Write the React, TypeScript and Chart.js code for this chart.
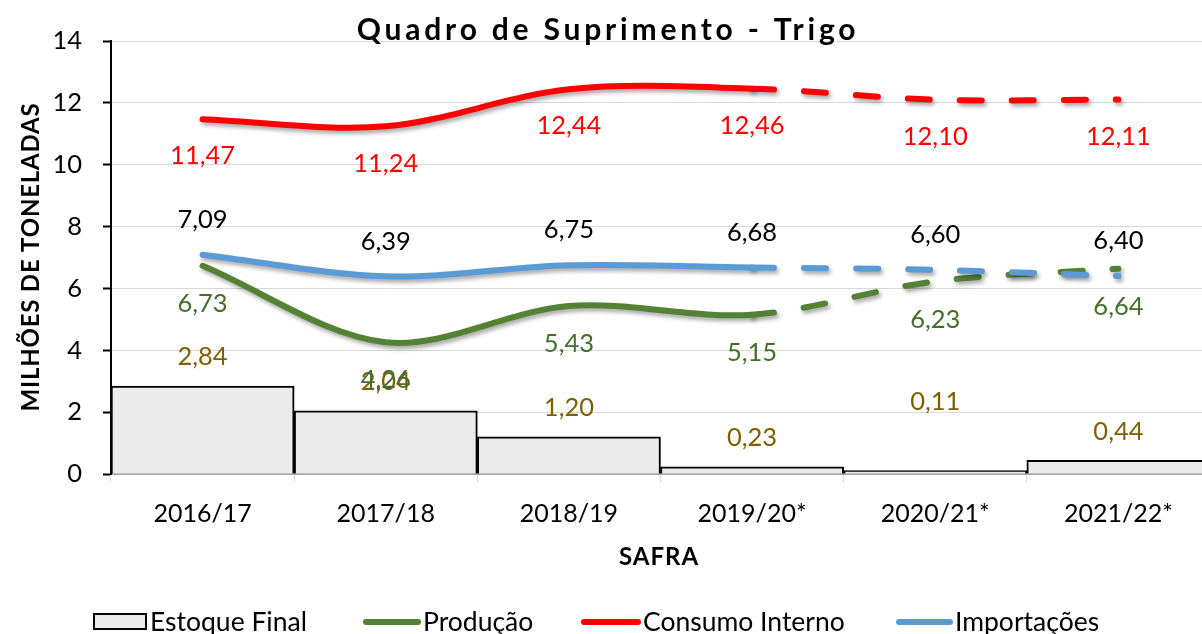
import { useEffect, useRef } from "react";
import { Chart, registerables } from "chart.js";

Chart.register(...registerables);

// ---- Data ----
const categories = ["2016/17", "2017/18", "2018/19", "2019/20*", "2020/21*", "2021/22*"];
const estoqueFinal = [2.84, 2.04, 1.2, 0.23, 0.11, 0.44];
const producao = [6.73, 4.26, 5.43, 5.15, 6.23, 6.64];
const consumoInterno = [11.47, 11.24, 12.44, 12.46, 12.1, 12.11];
const importacoes = [7.09, 6.39, 6.75, 6.68, 6.6, 6.4];
const seriesNames = ["Estoque Final", "Produção", "Consumo Interno", "Importações"];
const yMin = 0;
const yMax = 14;
const yStep = 2;
const projectionStartIndex = 3;

// ---- Styles ----
const FONT = "Lato, 'Open Sans', sans-serif";
const GREEN = "#548235";
const RED = "#ff0000";
const BLUE = "#5b9bd5";
const BAR_FILL = "#ebebeb";
const labelStyles = [
  { color: "#7f6000", dy: -29 },
  { color: "#42702a", dy: 38 },
  { color: "#ff0000", dy: 37 },
  { color: "#000000", dy: -35 },
];
const estoqueLabelDyOverride: Record<number, number> = { 4: -69 };

const fmt = (v: number) => v.toFixed(2).replace(".", ",");

const decorPlugin = {
  id: "decor",
  beforeDatasetDraw(chart: any, args: any) {
    const ds = chart.data.datasets[args.index];
    if (ds.type === "line") {
      const ctx = chart.ctx;
      ctx.save();
      ctx.shadowColor = "rgba(0,0,0,0.35)";
      ctx.shadowBlur = 4;
      ctx.shadowOffsetX = 2;
      ctx.shadowOffsetY = 3;
    }
  },
  afterDatasetDraw(chart: any, args: any) {
    const ds = chart.data.datasets[args.index];
    if (ds.type === "line") chart.ctx.restore();
  },
  afterDraw(chart: any) {
    const ctx = chart.ctx as CanvasRenderingContext2D;
    // data labels
    ctx.save();
    ctx.font = `25.5px ${FONT}`;
    ctx.textAlign = "center";
    ctx.textBaseline = "middle";
    chart.data.datasets.forEach((ds: any, i: number) => {
      const meta = chart.getDatasetMeta(i);
      const st = labelStyles[i];
      ctx.fillStyle = st.color;
      meta.data.forEach((el: any, j: number) => {
        let dy = st.dy;
        if (i === 0 && estoqueLabelDyOverride[j] !== undefined) dy = estoqueLabelDyOverride[j];
        ctx.fillText(fmt(ds.data[j]), el.x, el.y + dy);
      });
    });
    ctx.restore();

    // title
    ctx.save();
    ctx.fillStyle = "#000";
    ctx.font = `bold 30px ${FONT}`;
    (ctx as any).letterSpacing = "3.8px";
    ctx.textAlign = "center";
    ctx.textBaseline = "alphabetic";
    ctx.fillText("Quadro de Suprimento - Trigo", 608, 40);
    ctx.restore();

    // y axis title
    ctx.save();
    ctx.fillStyle = "#000";
    ctx.font = `bold 24px ${FONT}`;
    (ctx as any).letterSpacing = "0.8px";
    ctx.textAlign = "center";
    ctx.textBaseline = "middle";
    ctx.translate(31, 257);
    ctx.rotate(-Math.PI / 2);
    ctx.fillText("MILHÕES DE TONELADAS", 0, 0);
    ctx.restore();

    // x axis title
    ctx.save();
    ctx.fillStyle = "#000";
    ctx.font = `bold 24px ${FONT}`;
    (ctx as any).letterSpacing = "1px";
    ctx.textAlign = "center";
    ctx.textBaseline = "middle";
    ctx.fillText("SAFRA", 659, 557);
    ctx.restore();

    // legend
    ctx.save();
    const ly = 622;
    ctx.font = `26.5px ${FONT}`;
    ctx.textBaseline = "middle";
    ctx.textAlign = "left";
    ctx.fillStyle = BAR_FILL;
    ctx.fillRect(94, 614, 52, 15);
    ctx.strokeStyle = "#000";
    ctx.lineWidth = 2;
    ctx.strokeRect(94, 614, 52, 15);
    ctx.fillStyle = "#000";
    ctx.fillText(seriesNames[0], 150, ly);
    const lineItems = [
      { x0: 366, x1: 418, color: GREEN, tx: 423, name: seriesNames[1] },
      { x0: 584, x1: 638, color: RED, tx: 643, name: seriesNames[2] },
      { x0: 899, x1: 950, color: BLUE, tx: 955, name: seriesNames[3] },
    ];
    ctx.lineCap = "round";
    lineItems.forEach((it) => {
      ctx.strokeStyle = it.color;
      ctx.lineWidth = 6;
      ctx.beginPath();
      ctx.moveTo(it.x0, ly);
      ctx.lineTo(it.x1, ly);
      ctx.stroke();
      ctx.fillStyle = "#000";
      ctx.fillText(it.name, it.tx, ly);
    });
    ctx.restore();
  },
};

const lineDataset = (label: string, data: number[], color: string, order: number) => ({
  type: "line" as const,
  label,
  data,
  borderColor: color,
  backgroundColor: color,
  borderWidth: 6,
  pointRadius: 0,
  pointHoverRadius: 0,
  tension: 0.33,
  fill: false,
  borderCapStyle: "round" as const,
  borderJoinStyle: "round" as const,
  order,
  segment: {
    borderDash: (c: any) => (c.p0DataIndex >= projectionStartIndex ? [22, 30] : undefined),
  },
});

export default function App() {
  const ref = useRef<HTMLCanvasElement>(null);
  useEffect(() => {
    const canvas = ref.current!;
    const chart = new Chart(canvas, {
      type: "bar",
      data: {
        labels: categories,
        datasets: [
          {
            type: "bar",
            label: seriesNames[0],
            data: estoqueFinal,
            backgroundColor: BAR_FILL,
            borderColor: "#000",
            borderWidth: 2,
            categoryPercentage: 1,
            barPercentage: 1,
            order: 4,
          } as any,
          lineDataset(seriesNames[1], producao, GREEN, 3),
          lineDataset(seriesNames[2], consumoInterno, RED, 2),
          lineDataset(seriesNames[3], importacoes, BLUE, 1),
        ],
      },
      options: {
        responsive: false,
        animation: false,
        devicePixelRatio: 1,
        layout: { padding: { top: 41, left: 0, right: 2, bottom: 0 } },
        plugins: {
          legend: { display: false },
          title: { display: false },
          tooltip: { enabled: false },
        },
        scales: {
          x: {
            z: 1,
            offset: true,
            grid: {
              display: true,
              drawOnChartArea: false,
              offset: true,
              tickLength: 8,
              tickColor: "#d9d9d9",
              tickWidth: 1,
            },
            border: { display: true, color: "#a6a6a6", width: 2 },
            ticks: {
              color: "#000",
              font: { family: FONT, size: 25 },
              padding: 17,
              maxRotation: 0,
              autoSkip: false,
            },
            afterFit: (scale: any) => {
              scale.height = 160;
            },
          },
          y: {
            min: yMin,
            max: yMax,
            grid: {
              color: "#d9d9d9",
              lineWidth: 1,
              tickLength: 8,
              tickColor: "#000",
              tickWidth: 2,
            },
            border: { display: true, color: "#000", width: 2 },
            ticks: {
              stepSize: yStep,
              color: "#000",
              font: { family: FONT, size: 25.5 },
              padding: 21,
            },
            afterFit: (scale: any) => {
              scale.width = 111;
            },
          },
        },
      },
      plugins: [decorPlugin],
    } as any);
    return () => chart.destroy();
  }, []);
  return (
    <div
      style={{
        position: "fixed",
        left: 0,
        top: 0,
        width: 1202,
        height: 634,
        overflow: "hidden",
        background: "#fff",
      }}
    >
      <canvas ref={ref} width={1212} height={634} style={{ display: "block", width: 1212, height: 634 }} />
    </div>
  );
}
